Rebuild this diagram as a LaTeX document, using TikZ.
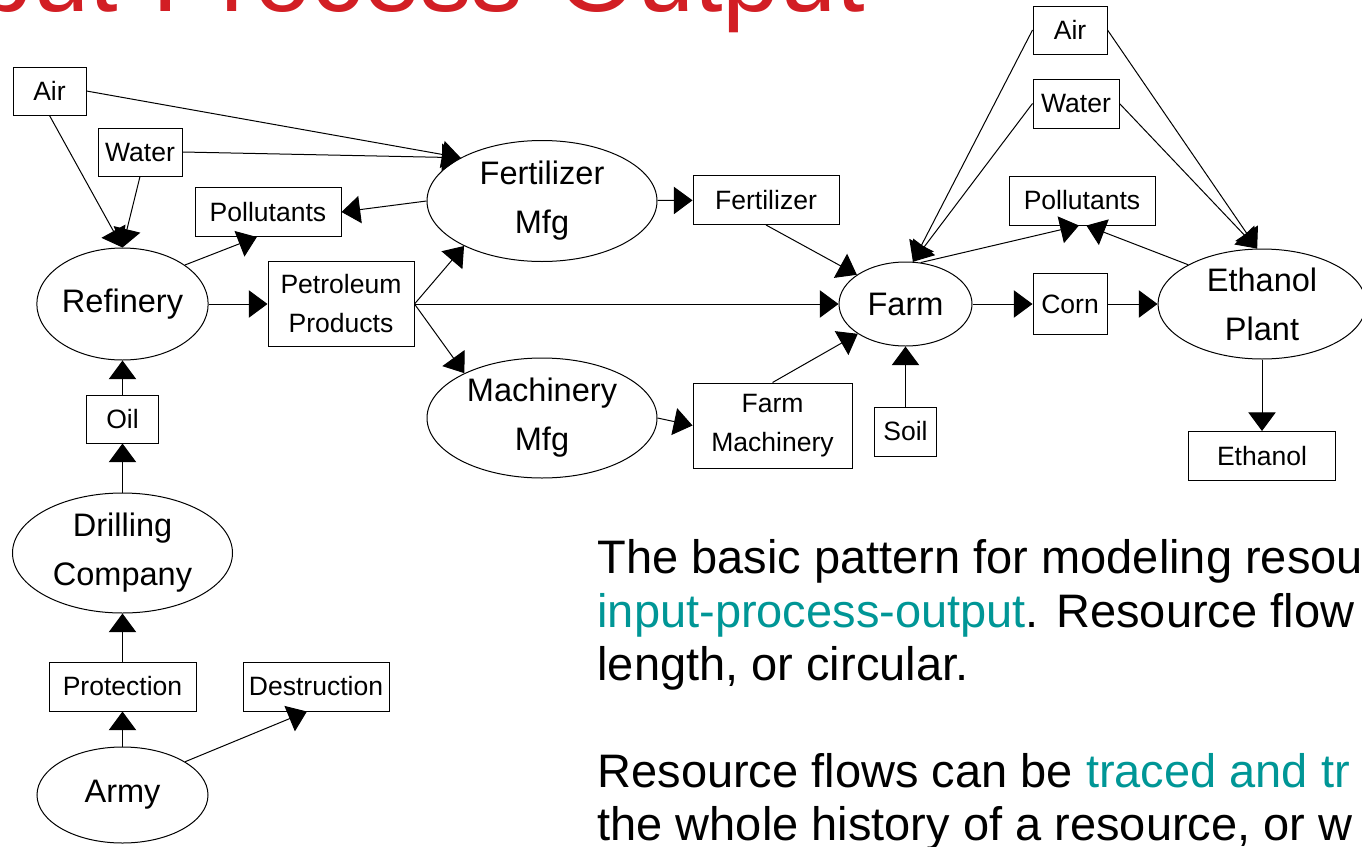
\documentclass[tikz,border=0pt]{standalone}
\usepackage{fontspec}
\setmainfont{Liberation Sans}
\usetikzlibrary{shapes.geometric,arrows.meta}

\definecolor{titlered}{RGB}{210,30,36}
\definecolor{linkteal}{RGB}{0,150,150}

\newcommand\procfont{\fontsize{24.4}{36.75}\selectfont}
\newcommand\resfont{\fontsize{19.9}{29.25}\selectfont}
\newcommand\bodyfont{\fontsize{35.25}{40}\selectfont}
\newcommand\headfont{\fontsize{77}{80}\selectfont}

\tikzset{every picture/.style={line width=0.75pt}}
\tikzset{
  proc/.style={draw, ellipse, inner sep=0pt, font=\procfont, align=center},
  res/.style={draw, rectangle, inner sep=0pt, font=\resfont, align=center},
  flow/.style={-{Triangle[length=14pt,width=20.5pt]}},
  bodytext/.style={anchor=base west, inner sep=0pt, font=\bodyfont}
}

\begin{document}
\begin{tikzpicture}[x=0.75pt,y=0.75pt,yscale=-1,xscale=1]
\useasboundingbox (0,0) rectangle (1362,846);

% Title
\node [anchor=base east, inner sep=0pt, font=\headfont, text=titlered] (title) at (866,12) {Input-Process-Output};

%Shape: Ellipse (processes)
\node [proc, minimum width=127.5pt, minimum height=84pt] (refinery) at (122.5,304) {Refinery};
\node [proc, minimum width=172.5pt, minimum height=90.75pt] (fertmfg) at (542,201) {Fertilizer\\Mfg};
\node [proc, minimum width=172.5pt, minimum height=90pt] (machmfg) at (542,418) {Machinery\\Mfg};
\node [proc, minimum width=99.75pt, minimum height=63pt] (farm) at (905.5,304) {Farm};
\node [proc, minimum width=156pt, minimum height=82.5pt] (eplant) at (1262,304) {Ethanol\\Plant};
\node [proc, minimum width=165pt, minimum height=90pt] (drill) at (122.5,553) {Drilling\\Company};
\node [proc, minimum width=128.25pt, minimum height=72pt] (army) at (122.5,795) {Army};

%Shape: Rectangle (resources)
\node [res, minimum width=54.75pt, minimum height=36pt] (airL) at (49.5,91) {Air};
\node [res, minimum width=63pt, minimum height=36pt] (waterL) at (140,152) {Water};
\node [res, minimum width=109.5pt, minimum height=36.75pt] (polL) at (268,212) {Pollutants};
\node [res, minimum width=109.5pt, minimum height=63.75pt] (petro) at (341,304) {Petroleum\\Products};
\node [res, minimum width=109.5pt, minimum height=36.75pt] (fert) at (766,200) {Fertilizer};
\node [res, minimum width=119.25pt, minimum height=63.75pt] (farmmach) at (772.5,425.5) {Farm\\Machinery};
\node [res, minimum width=55.5pt, minimum height=45.75pt] (corn) at (1070,304) {Corn};
\node [res, minimum width=46.5pt, minimum height=36.75pt] (soil) at (905.5,431.5) {Soil};
\node [res, minimum width=110.25pt, minimum height=36.75pt] (ethanol) at (1262,456) {Ethanol};
\node [res, minimum width=109.5pt, minimum height=36.75pt] (polR) at (1082,200.5) {Pollutants};
\node [res, minimum width=55.5pt, minimum height=36pt] (airR) at (1070,30) {Air};
\node [res, minimum width=64.5pt, minimum height=36.75pt] (waterR) at (1076,103.5) {Water};
\node [res, minimum width=54pt, minimum height=36pt] (oil) at (122.5,419) {Oil};
\node [res, minimum width=110.25pt, minimum height=36.75pt] (protect) at (122.5,686.5) {Protection};
\node [res, minimum width=109.5pt, minimum height=36.75pt] (destr) at (316,686.5) {Destruction};

% Flows
\draw [flow] (airL.east) -- (fertmfg.152);
\draw [flow] (waterL.east) -- (fertmfg.152);
\draw [flow] (airL.south) -- (refinery.north);
\draw [flow] (waterL.south) -- (refinery.north);
\draw [flow] (fertmfg.west) -- (polL.east);
\draw [flow] (refinery.32) -- (polL.-114);
\draw [flow] (refinery) -- (petro);
\draw [flow] (petro.east) -- (fertmfg.210);
\draw [flow] (petro.east) -- (farm.west);
\draw [flow] (petro.east) -- (machmfg.150);
\draw [flow] (fertmfg) -- (fert);
\draw [flow] (fert.south) -- (farm.149);
\draw [flow] (machmfg.east) -- (farmmach.west);
\draw [flow] (farmmach.north) -- (farm.212);
\draw [flow] (farm) -- (corn);
\draw [flow] (corn) -- (eplant);
\draw [flow] (soil) -- (farm);
\draw [flow] (airR.west) -- (farm.80);
\draw [flow] (waterR.west) -- (farm.80);
\draw [flow] (farm.70) -- (polR.-97);
\draw [flow] (eplant.152) -- (polR.-80);
\draw [flow] (airR.east) -- (eplant.95);
\draw [flow] (waterR.east) -- (eplant.95);
\draw [flow] (eplant) -- (ethanol);
\draw [flow] (oil) -- (refinery);
\draw [flow] (drill) -- (oil);
\draw [flow] (protect) -- (drill);
\draw [flow] (army) -- (protect);
\draw [flow] (army.28) -- (destr.-110);

% Text Node
\node [bodytext] (lineA) at (597,573) {The basic pattern for modeling resou};
\node [bodytext] (lineB) at (597,627) {\textcolor{linkteal}{input-process-output}. Resource flow};
\node [bodytext] (lineC) at (597,680) {length, or circular.};
\node [bodytext] (lineD) at (597,787) {Resource flows can be \textcolor{linkteal}{traced and tr}};
\node [bodytext] (lineE) at (597,840) {the whole history of a resource, or w};

\end{tikzpicture}
\end{document}
